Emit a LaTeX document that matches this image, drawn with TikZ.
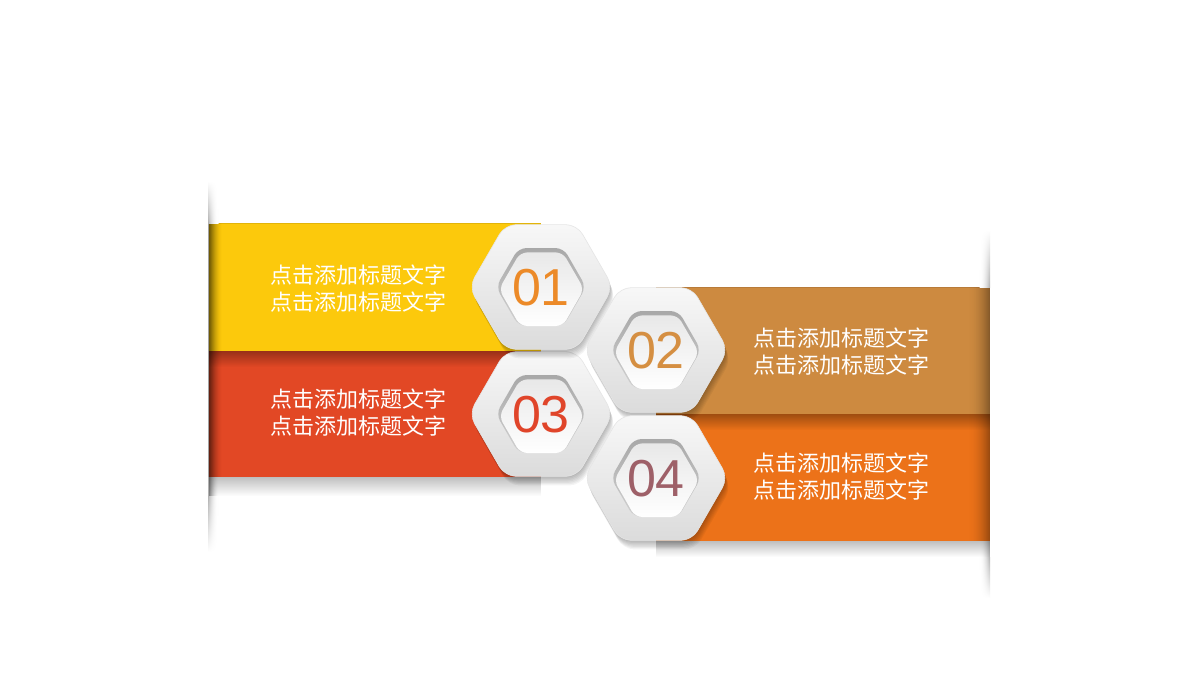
\documentclass[tikz,border=0pt]{standalone}
\usepackage{fontspec}
\setmainfont{Liberation Sans}
\newfontfamily\cjk{Noto Sans CJK SC}
\usetikzlibrary{shapes.geometric,calc,fadings}
\definecolor{cyel}{HTML}{FCC90C}
\definecolor{cred}{HTML}{E24825}
\definecolor{cbrn}{HTML}{CD8A40}
\definecolor{corg}{HTML}{EC7219}
\definecolor{n1}{HTML}{EC8A28}
\definecolor{n2}{HTML}{D58F42}
\definecolor{n3}{HTML}{E0452A}
\definecolor{n4}{HTML}{9E6068}
\tikzfading[name=topdark, top color=transparent!0, bottom color=transparent!100]
\tikzset{
  hexshape/.style={regular polygon, regular polygon sides=6, inner sep=0pt, rounded corners=11pt},
  outerhex/.style={hexshape, minimum size=144pt, top color=white!97!black, bottom color=white!86!black, draw=white!90!black, line width=0.6pt},
  hexshadow/.style={hexshape, minimum size=144pt, fill=black, opacity=0.045},
  innerbase/.style={hexshape, minimum size=90pt, rounded corners=8pt, top color=white!66!black, bottom color=white!82!black},
  innerface/.style={hexshape, minimum size=85pt, rounded corners=7pt, top color=white!91!black, bottom color=white},
  numtext/.style={font=\fontsize{52}{52}\selectfont, inner sep=0pt},
  bandtext/.style={font=\cjk\fontsize{22}{27}\selectfont, text=white, align=center, inner sep=0pt},
}
\newcommand\hexitem[4]{%
  \foreach \k in {1,...,7}{\node[hexshadow] (#1s\k) at ($(#2)+(0.5*\k,1.3*\k)$) {};}
  \node[outerhex] (#1) at (#2) {};
  \node[innerbase] (#1b) at (#2) {};
  \node[innerface] (#1f) at ($(#2)+(0.5,2.2)$) {};
  \node[numtext, text=#4] (#1n) at ($(#2)+(0,1)$) {#3};
}
\begin{document}
\begin{tikzpicture}[x=1pt,y=-1pt]
\useasboundingbox (0,0) rectangle (1200,675);
\fill[white] (0,0) rectangle (1200,675);
% left bands
\fill[cyel] (209,223) rectangle (541,351);
\fill[cred] (209,351) rectangle (541,477);
\fill[black, opacity=0.32, path fading=topdark] (209,351) rectangle (541,367);
\fill[black, opacity=0.25, path fading=topdark] (209,477) rectangle (541,496);
\draw[black, opacity=0.10] (209,223.5) -- (541,223.5);
% right bands
\fill[cbrn] (656,287) rectangle (990,414);
\fill[corg] (656,414) rectangle (990,541);
\fill[black, opacity=0.32, path fading=topdark] (656,414) rectangle (990,430);
\fill[black, opacity=0.25, path fading=topdark] (656,541) rectangle (990,557);
\draw[black, opacity=0.10] (656,287.5) -- (990,287.5);
% edge strips
\foreach \i [evaluate=\i as \op using {0.36*(1-\i/14)^2}] in {0,...,13}{
  \fill[black, opacity=\op] (208+\i,223) rectangle (209.5+\i,477);
}
\foreach \i [evaluate=\i as \op using {0.30*(1-\i/10)^2}] in {0,...,9}{
  \fill[black, opacity=\op] (208+\i,477) rectangle (209.5+\i,496);
}
\foreach \i [evaluate=\i as \pc using {30*(1-\i/10)^2}] in {0,...,9}{
  \shade[top color=white, bottom color=black!\pc] (208+\i,181) rectangle (209.5+\i,223);
  \shade[top color=black!\pc, bottom color=white] (208+\i,496) rectangle (209.5+\i,552);
}
\foreach \i [evaluate=\i as \op using {0.34*(1-\i/22)^2}] in {0,...,21}{
  \fill[black, opacity=\op] (988.5-\i,287) rectangle (990-\i,541);
}
\foreach \i [evaluate=\i as \op using {0.28*(1-\i/10)^2}] in {0,...,9}{
  \fill[black, opacity=\op] (988.5-\i,541) rectangle (990-\i,557);
}
\foreach \i [evaluate=\i as \pc using {28*(1-\i/10)^2}] in {0,...,9}{
  \shade[top color=white, bottom color=black!\pc] (988.5-\i,230) rectangle (990-\i,287);
  \shade[top color=black!\pc, bottom color=white] (988.5-\i,557) rectangle (990-\i,598);
}
% texts
\node[bandtext] (t1) at (358,289) {点击添加标题文字\\点击添加标题文字};
\node[bandtext] (t3) at (358,413) {点击添加标题文字\\点击添加标题文字};
\node[bandtext] (t2) at (841,352) {点击添加标题文字\\点击添加标题文字};
\node[bandtext] (t4) at (841,477) {点击添加标题文字\\点击添加标题文字};
% hexagons
\coordinate (c1) at (541,287);
\coordinate (c2) at (656,350);
\coordinate (c3) at (541,414);
\coordinate (c4) at (656,478);
\hexitem{h3}{c3}{03}{n3}
\hexitem{h1}{c1}{01}{n1}
\hexitem{h2}{c2}{02}{n2}
\hexitem{h4}{c4}{04}{n4}
\end{tikzpicture}
\end{document}
